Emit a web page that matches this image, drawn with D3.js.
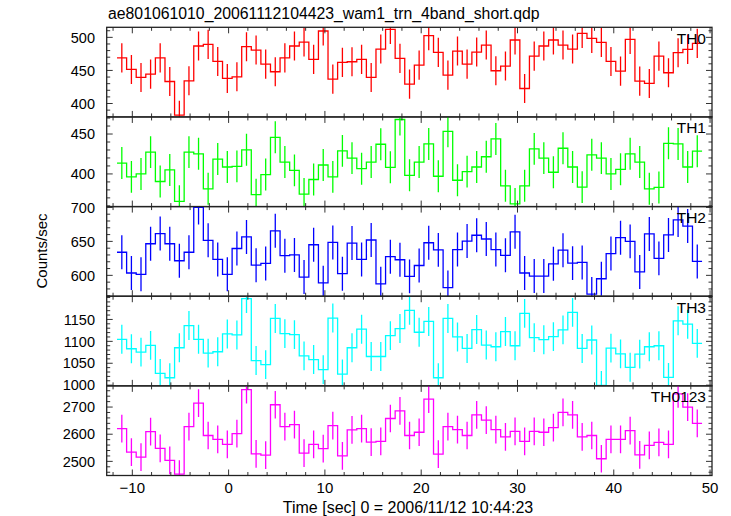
<!DOCTYPE html>
<html><head><meta charset="utf-8">
<script src="https://cdn.jsdelivr.net/npm/d3@7"></script>
<style>body{margin:0;background:#fff} svg{display:block} text{font-family:"Liberation Sans",Arial,Helvetica,sans-serif}</style>
</head><body><svg id="c" width="731" height="516"></svg>
<script>
const title = "ae801061010_20061112104423_wam1_trn_4band_short.qdp";
const xLabel = "Time [sec] 0 = 2006/11/12 10:44:23";
const yLabel = "Counts/sec";
const bandNames = ["TH0","TH1","TH2","TH3","TH0123"];
const bandColors = ["#ff0000","#00ff00","#0000ff","#00ffff","#ff00ff"];

// bin timing (1-s bins)
const binFirstCenter = -11.09, binWidth = 0.996, binCount = 61;
const times = d3.range(binCount).map(i => binFirstCenter + i * binWidth);

const th0 = [469,451.5,439.4,444.4,469,433.3,382.3,434.3,486.9,489.4,463.6,437.9,440.4,485.9,480.8,459.6,448,469,486.9,492.9,466.7,509.6,436.9,462.1,463.1,466.7,439.4,482.3,
  512,468.2,429.3,458.1,502.5,477.3,442.9,479.3,459.6,477.8,488.4,449.5,456.6,496,422.7,471.7,486.9,496,488.4,482.3,506,498.5,492.4,463.6,449,497,433.8,430.3,471.7,446.5,476.8,481.8,490.9];
const th1 = [413.6,396.3,400,427.3,390.5,405,365.7,427.3,425.2,381.4,418.6,408.7,409.5,430.2,374,399.2,445.9,414.9,404.5,374.8,393,411.2,396.3,428.9,419.8,406.6,414.9,437.2,
  408.3,468.2,398.3,414.9,437.6,397.1,453.3,392.1,402.9,408.7,421.5,443.8,385.1,362.4,385.1,431.4,419.8,402.1,432.2,408.7,383.5,424,419.8,400,405.8,425.2,414.9,381.4,383.1,438.4,437.6,408.7,428.5];
const th2 = [634,603.5,601.5,646.5,661.5,646.5,621.5,634,700,651.5,623.5,601.5,639.5,656.5,615,617.5,665.5,629,630,597.5,645,589,648.5,602.5,647.5,623.5,652,587.5,
  627.5,623,598.5,614.5,648,637.5,582,638,650.5,659,653.5,638,629.5,664,603.5,599,599,617,637,618,619,572.5,595,632,655.5,650,605,661,625,659.5,681.5,672.5,620.5];
const th3 = [1104.6,1083.1,1075.4,1090.8,1026.9,1016.9,1085.4,1136.1,1104.6,1073.1,1076.2,1116.9,1114.6,1197.7,1056.2,1046.9,1152.3,1117.7,1115.4,1066.9,1058.5,1035.4,1153.1,1025.4,1085.4,1127.7,1065.4,1065.4,
  1113.1,1129.2,1170.8,1120.8,1145.4,1016.9,1152.3,1110,1083.8,1126.9,1091.5,1087.7,1122.3,1090,1163.8,1108.5,1103.8,1110.8,1126.2,1166.2,1083.8,1103.1,999.2,1084.6,1071.5,1040.8,1070.8,1087.7,1090,1017.7,1146.9,1139.2,1095.4];
const th0123 = [2620.5,2533.7,2515.7,2609.6,2548.2,2503.6,2453,2627.7,2714.5,2595.2,2580.7,2562.6,2602.4,2763.9,2527.7,2522.9,2708.5,2627.7,2635,2530.1,2562.6,2547,2631.3,2520.5,2615.7,2620.5,2571.1,2573.5,
  2657.8,2685.6,2595.2,2607.2,2728.9,2526.5,2627.7,2616.9,2595.2,2671.1,2651.8,2616.9,2590.4,2610.8,2573.5,2610.8,2607.2,2624.1,2680.7,2671.1,2590.4,2595.2,2509.6,2580.7,2580.7,2613.3,2524.1,2559,2569.9,2562.6,2748.2,2700,2639.8];
const series = [th0, th1, th2, th3, th0123];
const errors = [22, 20, 25, 33, 51];

const yDomains = [[379.7,515.2],[359.1,471.4],[569.3,701.2],[998.4,1203],[2448,2778]];
const yMajorTicks = [[400,450,500],[400,450],[600,650,700],[1000,1050,1100,1150],[2500,2600,2700]];
const yMinorStep = [10,10,10,10,20];
const xDomain = [-12.66, 50.2];
const xMajorTicks = [-10,0,10,20,30,40,50];
const xMinorStep = 2;

const svg = d3.select("#c");
const L = 106.7, R = 712, T = 27.3, PH = 89.64;
const x = d3.scaleLinear().domain(xDomain).range([L, R]);
const xMinor = d3.range(-12, 50.01, xMinorStep);
const frameColor = "#222", tickColor = "#333";
const majLen = 6, minLen = 3.5;

svg.append("text").attr("x", 108).attr("y", 19).attr("font-size", 15.8).attr("fill", "#000").text(title);

series.forEach((vals, p) => {
  const top = T + p * PH, bot = top + PH;
  const y = d3.scaleLinear().domain(yDomains[p]).range([bot, top]);
  const g = svg.append("g");
  const clipId = "clip" + p;
  svg.append("clipPath").attr("id", clipId).append("rect")
    .attr("x", L).attr("y", top).attr("width", R - L).attr("height", PH);

  const dg = g.append("g").attr("clip-path", `url(#${clipId})`);
  const pts = [];
  vals.forEach((v, i) => {
    pts.push([times[i] - binWidth / 2, v]);
    pts.push([times[i] + binWidth / 2, v]);
  });
  const line = d3.line().x(d => x(d[0])).y(d => y(d[1]));
  dg.append("path").attr("d", line(pts)).attr("fill", "none")
    .attr("stroke", bandColors[p]).attr("stroke-width", 1.3);
  dg.selectAll("line.err").data(vals).join("line").attr("class", "err")
    .attr("x1", (d, i) => x(times[i])).attr("x2", (d, i) => x(times[i]))
    .attr("y1", d => y(d - errors[p])).attr("y2", d => y(d + errors[p]))
    .attr("stroke", bandColors[p]).attr("stroke-width", 1.3);

  // x ticks (top and bottom, inward)
  const tg = g.append("g").attr("stroke", tickColor).attr("stroke-width", 1);
  xMinor.forEach(t => {
    const len = Math.abs(t % 10) < 1e-6 ? majLen : minLen;
    tg.append("line").attr("x1", x(t)).attr("x2", x(t)).attr("y1", bot).attr("y2", bot - len);
    tg.append("line").attr("x1", x(t)).attr("x2", x(t)).attr("y1", top).attr("y2", top + len);
  });
  // y ticks (left and right, inward)
  const yMin = yDomains[p][0], yMax = yDomains[p][1], st = yMinorStep[p];
  d3.range(Math.ceil(yMin / st) * st, yMax + 1e-6, st).forEach(v => {
    const len = yMajorTicks[p].includes(v) ? majLen : minLen;
    tg.append("line").attr("x1", L).attr("x2", L + len).attr("y1", y(v)).attr("y2", y(v));
    tg.append("line").attr("x1", R).attr("x2", R - len).attr("y1", y(v)).attr("y2", y(v));
  });
  // y labels
  g.selectAll("text.yl").data(yMajorTicks[p]).join("text").attr("class", "yl")
    .attr("x", 95).attr("y", d => y(d)).attr("dy", "0.36em").attr("text-anchor", "end")
    .attr("font-size", 14.5).attr("fill", "#000").text(d => d);
  // frame
  g.append("rect").attr("x", L).attr("y", top).attr("width", R - L).attr("height", PH)
    .attr("fill", "none").attr("stroke", frameColor).attr("stroke-width", 1.3);
  // band label
  g.append("text").attr("x", 706).attr("y", top + 16.5).attr("text-anchor", "end")
    .attr("font-size", 15.5).attr("fill", "#000").text(bandNames[p]);
});

const bottom = T + 5 * PH;
svg.selectAll("text.xl").data(xMajorTicks).join("text").attr("class", "xl")
  .attr("x", d => x(d)).attr("y", bottom + 17.5).attr("text-anchor", "middle")
  .attr("font-size", 15).attr("fill", "#000").text(d => d < 0 ? "\u2212" + Math.abs(d) : d);
svg.append("text").attr("x", 408).attr("y", 513).attr("text-anchor", "middle")
  .attr("font-size", 16).attr("fill", "#000").text(xLabel);
svg.append("text").attr("transform", "translate(47,251) rotate(-90)").attr("text-anchor", "middle")
  .attr("font-size", 15).attr("fill", "#000").text(yLabel);
</script></body></html>
